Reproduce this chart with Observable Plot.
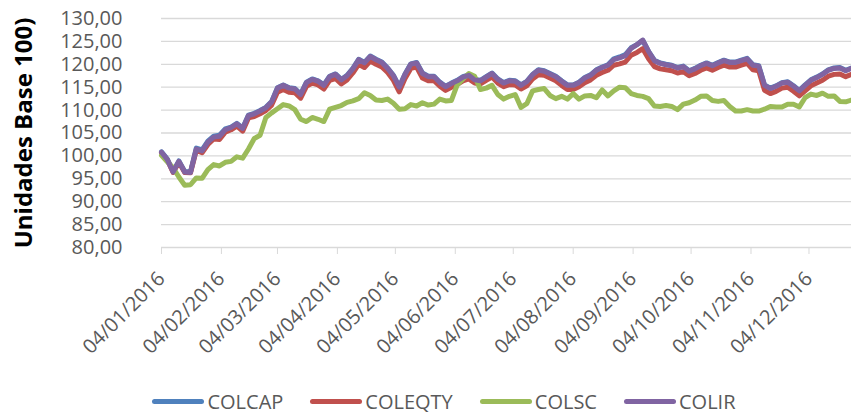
<!DOCTYPE html>
<html>
<head>
<meta charset="utf-8">
<script src="https://cdn.jsdelivr.net/npm/d3@7"></script>
<script src="https://cdn.jsdelivr.net/npm/@observablehq/plot@0.6"></script>
<style>
  body { margin: 0; background: #fff; font-family: "Open Sans", sans-serif; }
  #legend { display: flex; justify-content: center; align-items: center; gap: 27px; height: 28px; margin-top: 7px; padding-left: 37px; color: #595959; font-size: 20px; }
  .item { display: flex; align-items: center; }
  .sw { width: 52px; height: 5px; border-radius: 3px; margin-right: 3px; }
</style>
</head>
<body>
<div id="chart"></div>
<div id="legend"></div>
<script>
const dates = [
  "04/01/2016","07/01/2016","10/01/2016","13/01/2016","16/01/2016","19/01/2016","22/01/2016","25/01/2016","28/01/2016","31/01/2016",
  "03/02/2016","06/02/2016","09/02/2016","12/02/2016","15/02/2016","18/02/2016","21/02/2016","24/02/2016","27/02/2016",
  "01/03/2016","04/03/2016","07/03/2016","10/03/2016","13/03/2016","16/03/2016","19/03/2016","22/03/2016","25/03/2016","28/03/2016","31/03/2016",
  "03/04/2016","06/04/2016","09/04/2016","12/04/2016","15/04/2016","18/04/2016","21/04/2016","24/04/2016","27/04/2016","30/04/2016",
  "03/05/2016","06/05/2016","09/05/2016","12/05/2016","15/05/2016","18/05/2016","21/05/2016","24/05/2016","27/05/2016","30/05/2016",
  "02/06/2016","05/06/2016","08/06/2016","11/06/2016","14/06/2016","17/06/2016","20/06/2016","23/06/2016","26/06/2016","29/06/2016",
  "02/07/2016","05/07/2016","08/07/2016","11/07/2016","14/07/2016","17/07/2016","20/07/2016","23/07/2016","26/07/2016","29/07/2016",
  "01/08/2016","04/08/2016","07/08/2016","10/08/2016","13/08/2016","16/08/2016","19/08/2016","22/08/2016","25/08/2016","28/08/2016","31/08/2016",
  "03/09/2016","06/09/2016","09/09/2016","12/09/2016","15/09/2016","18/09/2016","21/09/2016","24/09/2016","27/09/2016","30/09/2016",
  "03/10/2016","06/10/2016","09/10/2016","12/10/2016","15/10/2016","18/10/2016","21/10/2016","24/10/2016","27/10/2016","30/10/2016",
  "02/11/2016","05/11/2016","08/11/2016","11/11/2016","14/11/2016","17/11/2016","20/11/2016","23/11/2016","26/11/2016","29/11/2016",
  "02/12/2016","05/12/2016","08/12/2016","11/12/2016","14/12/2016","17/12/2016","20/12/2016","23/12/2016","26/12/2016"
];

const COLCAP = [
  100.9,99.3,96.6,98.9,96.6,96.5,101.7,101.3,103.2,104.3,
  104.5,105.9,106.3,107.1,106.1,108.9,109.3,109.9,110.6,111.9,
  114.9,115.5,114.9,114.7,113.5,116.1,116.8,116.4,115.5,117.4,
  117.9,116.7,117.6,119.1,121.1,120.4,121.8,121.1,120.5,119.2,
  117.6,115.1,117.9,120.1,120.4,118.1,117.4,117.4,116.1,115.2,
  115.9,116.5,117.3,117.7,116.7,116.5,117.3,118.1,116.8,116.0,
  116.5,116.4,115.5,116.3,117.8,118.8,118.6,118.0,117.4,116.4,
  115.5,115.5,116.1,117.1,117.7,118.8,119.4,119.9,121.2,121.6,
  122.1,123.6,124.3,125.2,122.8,120.9,120.3,120.0,119.8,119.3,
  119.6,118.6,119.1,119.8,120.3,119.8,120.4,120.9,120.5,120.5,
  120.9,121.3,119.9,119.7,115.5,114.8,115.3,116.0,116.2,115.3,
  114.3,115.5,116.6,117.2,117.9,118.8,119.2,119.3,118.7,119.2
];
const COLEQTY = [
  100.7,99.1,96.4,98.6,96.4,96.3,101.2,100.7,102.5,103.7,
  103.6,105.2,105.7,106.5,105.4,108.3,108.6,109.2,109.9,111.1,
  113.9,114.5,113.9,113.8,112.6,115.2,115.9,115.5,114.6,116.5,
  116.9,115.7,116.6,118.1,120.0,119.3,120.7,120.0,119.4,118.2,
  116.5,114.0,116.9,119.1,119.4,117.0,116.4,116.4,115.2,114.3,
  115.0,115.6,116.4,116.8,115.9,115.7,116.5,117.2,115.9,115.1,
  115.6,115.5,114.6,115.3,116.8,117.7,117.6,117.0,116.4,115.4,
  114.5,114.5,115.1,116.0,116.6,117.6,118.2,118.7,119.8,120.1,
  120.5,122.0,122.6,123.4,121.2,119.5,119.0,118.8,118.6,118.1,
  118.4,117.5,118.0,118.7,119.2,118.7,119.3,119.8,119.4,119.4,
  119.8,120.2,118.8,118.6,114.3,113.6,114.1,114.8,115.0,114.1,
  113.1,114.2,115.3,115.9,116.5,117.4,117.8,117.9,117.3,117.8
];
const COLSC = [
  100.1,98.7,97.4,95.4,93.6,93.7,95.2,95.1,97.0,98.1,
  97.8,98.6,98.8,99.8,99.5,101.5,103.8,104.5,108.4,109.4,
  110.3,111.2,110.9,110.1,108.0,107.5,108.4,108.0,107.5,110.2,
  110.6,111.0,111.7,112.0,112.5,113.8,113.2,112.2,112.1,112.4,
  111.5,110.2,110.3,111.2,110.9,111.6,111.1,111.3,112.4,112.0,
  112.1,115.5,116.8,118.0,117.4,114.5,114.8,115.4,113.4,112.4,
  113.0,113.4,110.6,111.4,114.2,114.5,114.7,113.2,112.5,113.0,
  112.4,113.6,112.4,113.1,113.2,112.7,114.4,113.1,114.2,115.0,
  114.9,113.6,113.2,113.0,112.5,110.9,110.8,111.0,110.8,110.1,
  111.3,111.6,112.2,113.0,113.1,112.1,111.9,112.1,110.8,109.8,
  109.8,110.1,109.8,109.8,110.2,110.8,110.7,110.7,111.3,111.3,
  110.7,112.7,113.5,113.2,113.7,113.0,113.1,111.9,111.8,112.2
];
const COLIR = [
  100.8,99.2,96.5,98.8,96.5,96.4,101.5,101.1,103.0,104.1,
  104.3,105.7,106.2,107.0,106.0,108.8,109.2,109.8,110.5,111.8,
  114.8,115.4,114.8,114.6,113.4,116.0,116.7,116.3,115.4,117.3,
  117.8,116.6,117.5,119.0,121.0,120.3,121.7,121.0,120.4,119.1,
  117.5,115.0,117.8,120.0,120.3,118.0,117.3,117.3,116.0,115.1,
  115.8,116.4,117.2,117.6,116.6,116.4,117.2,118.0,116.7,115.9,
  116.4,116.3,115.4,116.2,117.7,118.7,118.5,117.9,117.3,116.3,
  115.4,115.4,116.0,117.0,117.6,118.7,119.3,119.8,121.0,121.4,
  121.9,123.5,124.3,125.3,122.8,120.8,120.2,119.9,119.7,119.2,
  119.5,118.5,119.0,119.7,120.2,119.7,120.3,120.8,120.4,120.4,
  120.8,121.2,119.8,119.6,115.4,114.7,115.2,115.9,116.1,115.2,
  114.2,115.4,116.5,117.1,117.8,118.7,119.1,119.2,118.6,119.1
];

const seriesNames = ["COLCAP", "COLEQTY", "COLSC", "COLIR"];
const seriesColors = ["#4F81BD", "#C0504D", "#9BBB59", "#8064A2"];
const tickLabels = ["04/01/2016","04/02/2016","04/03/2016","04/04/2016","04/05/2016","04/06/2016","04/07/2016","04/08/2016","04/09/2016","04/10/2016","04/11/2016","04/12/2016"];
const yTicks = [80, 85, 90, 95, 100, 105, 110, 115, 120, 125, 130];
const xDomain = ["04/01/2016", "26/12/2016"];
const yLabel = "Unidades Base 100)";

const parse = d3.utcParse("%d/%m/%Y");
const fmtX = d3.utcFormat("%d/%m/%Y");
const fmtY = d => d.toFixed(2).replace(".", ",");

const valuesBySeries = {COLCAP, COLEQTY, COLSC, COLIR};
const rows = [];
for (const name of seriesNames) {
  valuesBySeries[name].forEach((v, i) => rows.push({series: name, date: parse(dates[i]), value: v}));
}
const tickDates = tickLabels.map(parse);

const chart = Plot.plot({
  width: 851,
  height: 380,
  marginLeft: 161,
  marginRight: 0,
  marginTop: 18,
  marginBottom: 133,
  style: {fontFamily: "Open Sans", fontSize: "20px", background: "white", overflow: "visible"},
  x: {type: "utc", domain: xDomain.map(parse)},
  y: {domain: [80, 130]},
  color: {domain: seriesNames, range: seriesColors},
  marks: [
    Plot.gridY({ticks: yTicks, stroke: "#d9d9d9", strokeOpacity: 1, strokeWidth: 1.3}),
    Plot.axisY({ticks: yTicks, tickSize: 0, tickPadding: 39, tickFormat: fmtY, fill: "#595959", label: null}),
    Plot.axisY({ticks: [], tickSize: 0, label: yLabel, labelAnchor: "center", labelArrow: "none", labelOffset: 147, fontWeight: "bold", fontSize: 24, fill: "black"}),
    Plot.axisX({ticks: tickDates, tickSize: 7, tickFormat: () => "", stroke: "#d9d9d9", strokeOpacity: 1, label: null}),
    Plot.text(tickDates, {x: d => d, frameAnchor: "bottom", text: d => fmtX(d), rotate: -45, textAnchor: "end", lineAnchor: "middle", dy: 28, fill: "#595959"}),
    Plot.line(rows, {x: "date", y: "value", z: "series", stroke: "series", strokeWidth: 5, strokeLinejoin: "round", strokeLinecap: "round"})
  ]
});
document.getElementById("chart").appendChild(chart);

const legend = document.getElementById("legend");
seriesNames.forEach((name, i) => {
  const item = document.createElement("div");
  item.className = "item";
  const sw = document.createElement("span");
  sw.className = "sw";
  sw.style.background = seriesColors[i];
  const label = document.createElement("span");
  label.textContent = name;
  item.appendChild(sw);
  item.appendChild(label);
  legend.appendChild(item);
});
</script>
</body>
</html>
